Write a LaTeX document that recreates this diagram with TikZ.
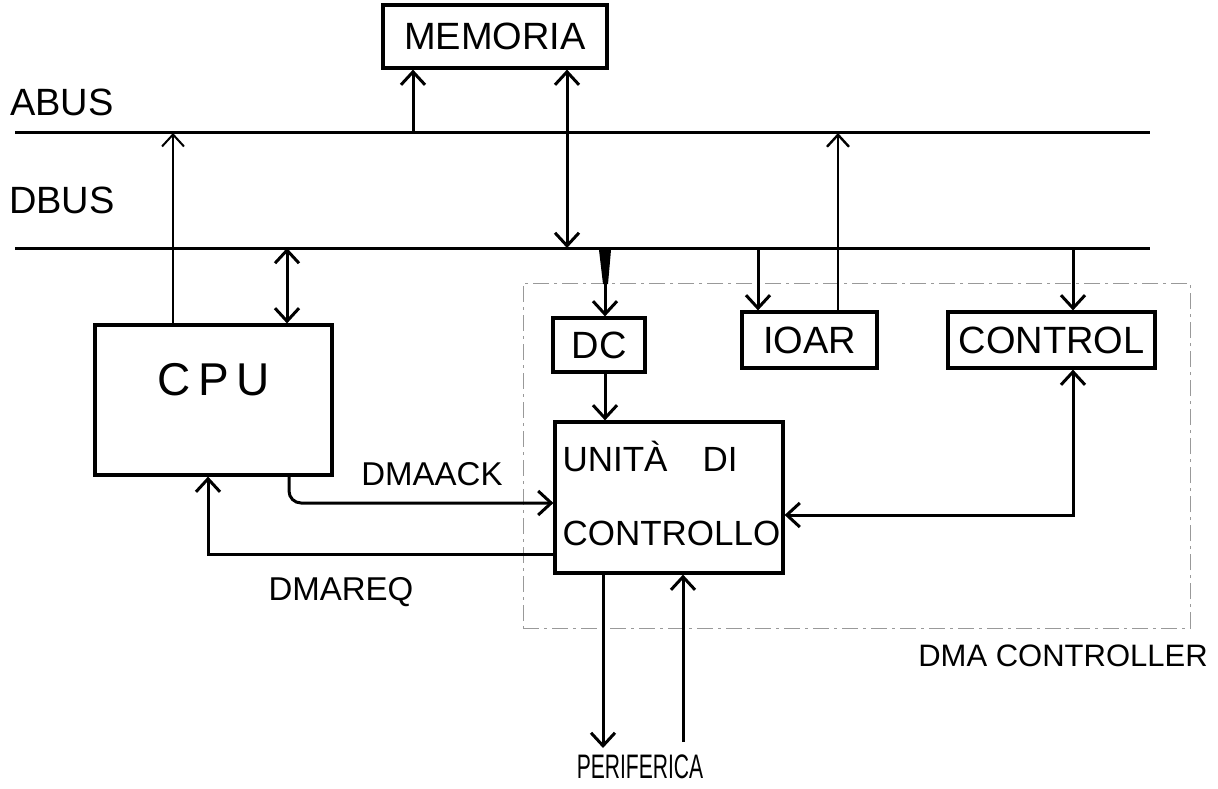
\documentclass[tikz,border=0pt]{standalone}
\usepackage{fontspec}
\setmainfont{Liberation Sans}
\usetikzlibrary{arrows.meta}
\begin{document}
\begin{tikzpicture}[x=1pt,y=-1pt,
  box/.style={draw, line width=3.2pt, inner sep=0pt},
  big/.style={font=\fontsize{38}{42}\selectfont},
  mid/.style={font=\fontsize{33}{36}\selectfont},
  bus/.style={line width=3pt},
  tip/.tip={Straight Barb[length=13pt,width=24pt]},
  conn/.style={line width=3pt, -tip},
  dconn/.style={line width=3pt, tip-tip},
  thinconn/.style={line width=2pt, -{Straight Barb[length=12pt,width=22pt]}},
  dmaframe/.style={draw=gray!80, line width=1pt, dash pattern=on 16pt off 5pt on 3pt off 5pt},
]
\useasboundingbox (0,0) rectangle (1218,789);

% DMA controller frame
\node[dmaframe, minimum width=667pt, minimum height=345pt, inner sep=0pt] (dmabox) at (856.5,455.5) {};
\node[font=\fontsize{31}{34}\selectfont] (dmalbl) at (1063,656) {DMA CONTROLLER};

% buses
\coordinate (abL) at (15,133);
\coordinate (abR) at (1150,133);
\coordinate (dbL) at (15,248);
\coordinate (dbR) at (1150,248);
\draw[bus] (abL) -- (abR);
\draw[bus] (dbL) -- (dbR);
\node[big] (abus) at (62,102) {ABUS};
\node[big] (dbus) at (62,200) {DBUS};

% boxes
\node[box, minimum width=224pt, minimum height=63pt, big] (memoria) at (495,36.5) {MEMORIA};
\node[box, minimum width=237pt, minimum height=150pt] (cpu) at (213.5,400) {};
\node[font=\fontsize{46}{50}\selectfont] (cputxt) at ([yshift=20pt]cpu.center) {C\,P\,U};
\node[box, minimum width=92pt, minimum height=54pt, big] (dc) at (599,345) {DC};
\node[box, minimum width=135pt, minimum height=56pt, big] (ioar) at (809.5,340) {IOAR};
\node[box, minimum width=207pt, minimum height=56pt, big] (control) at (1051.5,340) {CONTROL};
\node[box, minimum width=228pt, minimum height=151pt] (unita) at (669,497.5) {};
\node[font=\fontsize{35}{74}\selectfont, align=left, anchor=west] (unitatxt) at (559,493) {UNITÀ\quad DI\\CONTROLLO};

% bus tap coordinates
\coordinate (ab1) at (173,133);
\coordinate (db1) at (287,248);
\coordinate (ab2) at (413,133);
\coordinate (db2) at (567,248);
\coordinate (db3) at (605,248);
\coordinate (db4) at (758,248);
\coordinate (ab3) at (838,133);
\coordinate (db5) at (1073,248);

% connectors
\draw[thinconn] (cpu.north -| ab1) -- (ab1);
\draw[dconn] (cpu.north -| db1) -- (db1);
\draw[conn] (ab2) -- (memoria.south -| ab2);
\draw[dconn] (memoria.south -| db2) -- (db2);
\fill (db3) ++(-6,2) -- ++(12,0) -- ++(-3,34) -- ++(-5,0) -- cycle;
\draw[conn] (db3) -- (dc.north -| db3);
\draw[conn] (dc.south -| db3) -- (unita.north -| db3);
\draw[conn] (db4) -- (ioar.north -| db4);
\draw[thinconn, line width=2.4pt] (ioar.north -| ab3) -- (ab3);
\draw[conn] (db5) -- (control.north -| db5);

\coordinate (c1) at (1073,515);
\draw[dconn] (control.south -| c1) -- (c1) -- (unita.east |- c1);

\coordinate (ack) at (289,503);
\draw[conn, rounded corners=12pt] (cpu.south -| ack) -- (ack) -- (unita.west |- ack);
\node[mid] (acklbl) at (432,474) {DMAACK};

\coordinate (req) at (208,554);
\draw[conn] (unita.west |- req) -- (req) -- (cpu.south -| req);
\node[mid] (reqlbl) at (341,592) {DMAREQ};

\coordinate (p1) at (603,748);
\coordinate (p2) at (683,742);
\draw[conn] (unita.south -| p1) -- (p1);
\draw[conn] (p2) -- (unita.south -| p2);
\node[font=\fontsize{34}{38}\selectfont, inner sep=1pt] (periferica) at (640,767) {\scalebox{0.62}[1]{PERIFERICA}};
\end{tikzpicture}
\end{document}
